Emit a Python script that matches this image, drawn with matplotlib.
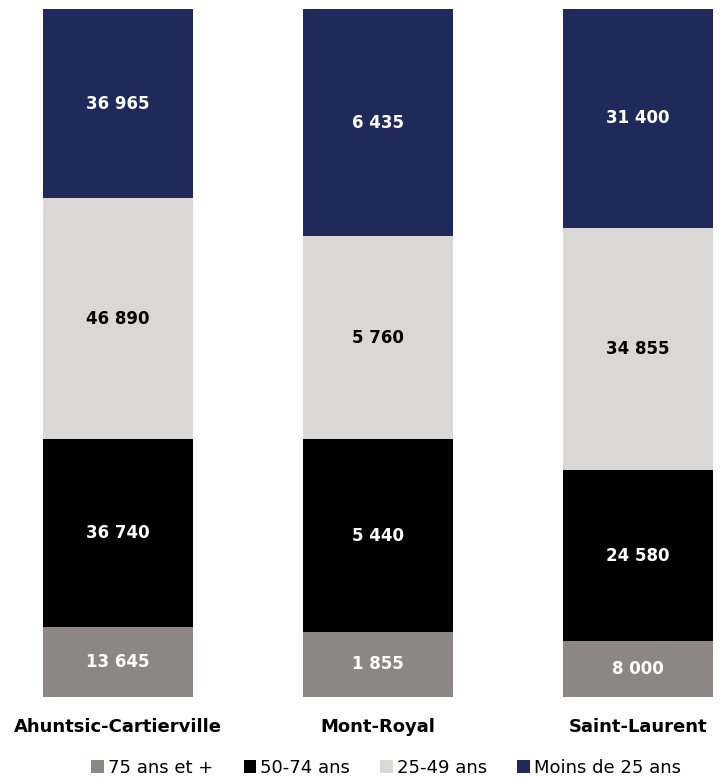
import matplotlib
matplotlib.use("Agg")
import matplotlib.pyplot as plt
from matplotlib.patches import Patch
import numpy as np

# Population by age group for three boroughs
boroughs = ["Ahuntsic-Cartierville", "Mont-Royal", "Saint-Laurent"]
age_groups = ["75 ans et +", "50-74 ans", "25-49 ans", "Moins de 25 ans"]
age_75_plus = [13645, 1855, 8000]
age_50_74 = [36740, 5440, 24580]
age_25_49 = [46890, 5760, 34855]
age_under_25 = [36965, 6435, 31400]

colors = ["#8c8784", "#000000", "#d9d8d6", "#1f2a5a"]
label_colors = ["white", "white", "black", "white"]

series = [age_75_plus, age_50_74, age_25_49, age_under_25]
totals = np.sum(series, axis=0)


def fmt(v):
    return f"{v:,}".replace(",", " ")


fig = plt.figure(figsize=(7.22, 7.79), dpi=100)
ax = fig.add_axes([0, 1 - 697 / 779, 1, (697 - 9) / 779])

x = np.arange(len(boroughs))
bottom = np.zeros(len(boroughs))
for vals, col, lc in zip(series, colors, label_colors):
    share = np.array(vals) / totals
    ax.bar(x, share, bottom=bottom, width=0.577, color=col, edgecolor="none")
    for xi, b, s, v in zip(x, bottom, share, vals):
        ax.text(xi, b + s / 2, fmt(v), ha="center", va="center",
                color=lc, fontsize=12, fontweight="bold",
                family="DejaVu Sans")
    bottom += share

ax.set_xlim(-118 / 260, 604 / 260)
ax.set_ylim(0, 1)
ax.set_xticks(x)
ax.set_xticklabels(boroughs, fontsize=13, fontweight="bold",
                   family="DejaVu Sans")
ax.tick_params(axis="x", length=0, pad=15)
ax.set_yticks([])
for s in ax.spines.values():
    s.set_visible(False)

handles = [Patch(facecolor=c, edgecolor="none") for c in colors]
fig.legend(handles, age_groups, loc="center", ncol=4,
           bbox_to_anchor=(386 / 722, 1 - 768 / 779), frameon=False,
           handlelength=0.7, handleheight=0.7, handletextpad=0.2,
           columnspacing=1.7, prop={"family": "DejaVu Sans", "size": 13})

fig.savefig("out.png", dpi=100)
